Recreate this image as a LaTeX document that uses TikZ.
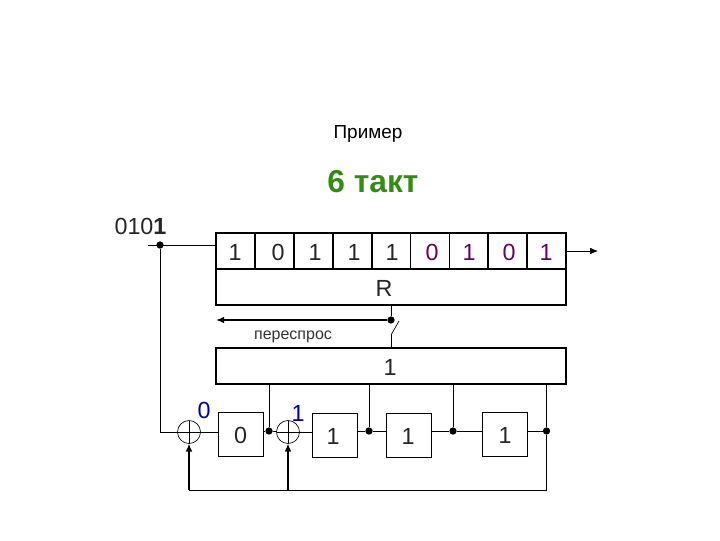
\documentclass[tikz,border=0pt]{standalone}
\usepackage{fontspec}
\setmainfont{Liberation Sans}
\usetikzlibrary{arrows.meta}
\definecolor{titlegreen}{RGB}{51,140,20}
\definecolor{bitpurple}{RGB}{102,0,102}
\definecolor{bitblue}{RGB}{0,0,153}
\tikzset{
  cell/.style={draw, line width=1.3pt, inner sep=0, outer sep=0, minimum width=29.2pt, minimum height=27pt},
  reg/.style={draw, line width=1.3pt, inner sep=0, outer sep=0, minimum width=262.5pt, minimum height=27pt},
  stage/.style={draw, line width=.7pt, inner sep=0, outer sep=0, minimum width=33.75pt, minimum height=33pt},
  adder/.style={draw, circle, line width=.5pt, inner sep=0, outer sep=0, minimum size=17.25pt},
  dot/.style={fill=black, circle, inner sep=0, outer sep=0, minimum size=5.5pt},
  bit/.style={font=\fontsize{17.5}{19}\selectfont, text=black!85},
  wire/.style={line width=.6pt},
  bus/.style={line width=1.1pt},
  tip/.style={-{Latex[length=6pt,width=5pt]}}
}
\begin{document}
\begin{tikzpicture}[x=.75pt,y=-.75pt]
\useasboundingbox (0,0) rectangle (720,540);

\node (title) at (368,134) {\fontsize{14.2}{16}\selectfont Пример};
\node[text=titlegreen] (step6) at (373,182) {\fontsize{23.8}{26}\selectfont\bfseries 6 такт};
\node (input) at (140.5,226) {\fontsize{17.5}{19}\selectfont\color{black!85}010\textbf{1}};

% send buffer
\foreach \n/\x in {1/235.5,2/274.4,3/313.3,4/352.2,5/391.1,6/430,7/468.9,8/507.8,9/546.7} {
\node[cell] (c\n) at (\x,251) {};
}
\foreach \x/\v in {235/1,278/0,315/1,354/1,392/1} {
\node[bit] (b\x) at (\x,252) {\v};
}
\foreach \x/\v in {432/0,469/1,509/0,546/1} {
\node[bit, text=bitpurple] (b\x) at (\x,252) {\v};
}

\node[reg] (regR) at (391,287) {};
\node[bit] (labR) at (384,288) {R};
\node[reg] (regS) at (391,366) {};
\node[bit] (labS) at (390,367) {1};

\coordinate (out) at (598,251);
\draw[tip, wire] (c9.east) -- (out);

% input and feedback to first adder
\coordinate (instart) at (148,245);
\coordinate (inleft) at (c1.west |- instart);
\node[dot] (din) at (160,245) {};
\draw[wire] (instart) -- (inleft);

\node[adder] (x1) at (189,432) {};
\node[adder] (x2) at (288,432) {};
\draw[wire] (x1.north) -- (x1.south);
\draw[wire] (x1.west) -- (x1.east);
\draw[wire] (x2.north) -- (x2.south);
\draw[wire] (x2.west) -- (x2.east);
\node[bit, text=bitblue] (q1) at (204,410) {0};
\node[bit, text=bitblue] (q2) at (298,413) {1};

\node[stage] (s1) at (240.5,434) {};
\node[bit] (t1) at (240.5,435) {0};
\node[stage] (s2) at (334.5,435.5) {};
\node[bit] (t2) at (333,436) {1};
\node[stage] (s3) at (408.5,435) {};
\node[bit] (t3) at (408,436) {1};
\node[stage] (s4) at (504.5,434) {};
\node[bit] (t4) at (505,435) {1};

\node[dot] (d1) at (269,431) {};
\node[dot] (d2) at (369,431) {};
\node[dot] (d3) at (453,431) {};
\node[dot] (d4) at (546.5,431) {};

\draw[wire] (din) |- (x1.west);
\draw[wire] (x1.east) -- (s1.west |- x1.east);
\draw[wire] (s1.east |- d1) -- (d1) -- (x2.west |- d1);
\draw[wire] (x2.east) -- (s2.west |- x2.east);
\draw[wire] (s2.east |- d2) -- (d2) -- (s3.west |- d2);
\draw[wire] (s3.east |- d3) -- (d3) -- (s4.west |- d3);
\draw[wire] (s4.east |- d4) -- (d4);

\foreach \n in {1,...,4} {
\draw[wire] (d\n) -- (d\n |- regS.south);
}

% feedback
\coordinate (back) at (546.5,490);
\draw[wire] (d4) -- (back);
\draw[wire] (back) -- (x1.south |- back);
\draw[tip, bus] (x1.south |- back) -- (x1.south);
\draw[tip, bus] (x2.south |- back) -- (x2.south);

% resend
\node[dot] (dsw) at (391,320) {};
\node (ask) at (293,337) {\fontsize{12}{14}\selectfont\color{black!80}переспрос};
\coordinate (swtop) at (399,321);
\coordinate (swbot) at (391,335);
\draw[wire] (regR.south -| dsw) -- (dsw);
\draw[tip, bus] (dsw) -- (regR.west |- dsw);
\draw[line width=.5pt] (swtop) -- (swbot);
\draw[wire] (swbot) -- (regS.north -| swbot);

\end{tikzpicture}
\end{document}
